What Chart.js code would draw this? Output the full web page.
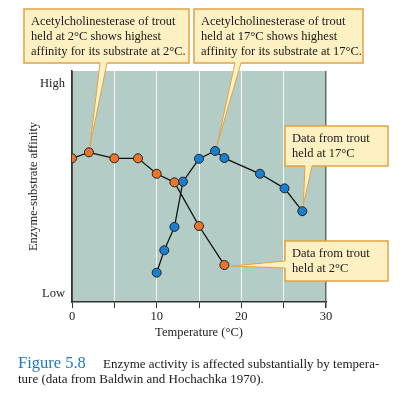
<!DOCTYPE html>
<html><head><meta charset="utf-8">
<script src="https://cdn.jsdelivr.net/npm/chart.js@4"></script>
<style>html,body{margin:0;padding:0;background:#fff;overflow:hidden}</style>
</head><body>
<canvas id="c" width="416" height="394"></canvas>
<script>
// ---- data ----
const temp2C = [0, 2, 5, 7.8, 10, 12.1, 15, 18];
const affinity2C = [62.2, 64.8, 62.2, 62.2, 55.5, 51.8, 32.9, 16.0];
const temp17C = [10, 10.9, 12.1, 13.1, 15, 16.9, 18, 22.2, 25.1, 27.2];
const affinity17C = [12.7, 22.4, 32.5, 52.1, 62.0, 65.4, 62.3, 55.5, 49.2, 39.3];
const xTickValues = [0, 5, 10, 15, 20, 25, 30];
const xTickLabels = ['0', '', '10', '', '20', '', '30'];
const yTickValues = [3.5, 94.4];
const yTickLabels = ['Low', 'High'];
const xTitle = 'Temperature (°C)';
const yTitle = 'Enzyme-substrate affinity';
const notes = [
  ['Acetylcholinesterase of trout', 'held at 2°C shows highest', 'affinity for its substrate at 2°C.'],
  ['Acetylcholinesterase of trout', 'held at 17°C shows highest', 'affinity for its substrate at 17°C.'],
  ['Data from trout', 'held at 17°C'],
  ['Data from trout', 'held at 2°C']
];
const captionLabel = 'Figure 5.8';
const captionLine1 = 'Enzyme activity is affected substantially by tempera-';
const captionLine2 = 'ture (data from Baldwin and Hochachka 1970).';

const SERIF = '"Liberation Serif", "DejaVu Serif", serif';
const FS = 12.5;

const bgPlugin = {
  id: 'bg',
  beforeDraw(chart) {
    const {ctx, chartArea: a} = chart;
    ctx.save();
    ctx.fillStyle = '#b3cdc6';
    ctx.fillRect(a.left, a.top, a.right - a.left, a.bottom - a.top);
    ctx.restore();
  }
};

// callout boxes: box rect + wedge (attached to a data point)
const callouts = [
  {box: [24, 9, 165, 54], text: notes[0], ds: 0, idx: 1, side: 'bottom', base: [100, 107], off: [1, -6]},
  {box: [194, 9, 169, 54], text: notes[1], ds: 1, idx: 5, side: 'bottom', base: [235, 241], off: [2, -6]},
  {box: [285, 126, 103, 40], text: notes[2], ds: 1, idx: 9, side: 'bottom', base: [305, 312], off: [1, -6]},
  {box: [285, 241, 103, 40], text: notes[3], ds: 0, idx: 7, side: 'left', base: [261, 268], off: [7, 1]}
];

const notePlugin = {
  id: 'notes',
  afterDraw(chart) {
    const ctx = chart.ctx;
    ctx.save();
    callouts.forEach(c => {
      const [bx, by, bw, bh] = c.box;
      const el = chart.getDatasetMeta(c.ds).data[c.idx];
      const tx = el.x + c.off[0], ty = el.y + c.off[1];
      ctx.fillStyle = '#fdf0c2';
      ctx.strokeStyle = '#e2a343';
      ctx.lineWidth = 1.5;
      ctx.fillRect(bx, by, bw, bh);
      ctx.strokeRect(bx, by, bw, bh);
      ctx.beginPath();
      if (c.side === 'bottom') {
        const yb = by + bh;
        ctx.moveTo(c.base[0], yb - 1); ctx.lineTo(tx, ty); ctx.lineTo(c.base[1], yb - 1);
        ctx.closePath(); ctx.fill();
        ctx.beginPath();
        ctx.moveTo(c.base[0], yb); ctx.lineTo(tx, ty); ctx.lineTo(c.base[1], yb);
      } else {
        ctx.moveTo(bx + 1, c.base[0]); ctx.lineTo(tx, ty); ctx.lineTo(bx + 1, c.base[1]);
        ctx.closePath(); ctx.fill();
        ctx.beginPath();
        ctx.moveTo(bx, c.base[0]); ctx.lineTo(tx, ty); ctx.lineTo(bx, c.base[1]);
      }
      ctx.lineWidth = 1;
      ctx.stroke();
      ctx.fillStyle = '#1a1a1a';
      ctx.font = FS + 'px ' + SERIF;
      ctx.textBaseline = 'middle';
      ctx.textAlign = 'left';
      c.text.forEach((t, i) => ctx.fillText(t, bx + 7, by + 13 + i * 14.8));
    });
    // caption
    ctx.textBaseline = 'alphabetic';
    ctx.fillStyle = '#2477bd';
    ctx.font = '16.5px ' + SERIF;
    ctx.fillText(captionLabel, 18, 368);
    ctx.fillStyle = '#1a1a1a';
    ctx.font = '13px ' + SERIF;
    ctx.fillText(captionLine1, 103, 368);
    ctx.fillText(captionLine2, 18, 383);
    ctx.restore();
  }
};

const pts = (xs, ys) => xs.map((x, i) => ({x, y: ys[i]}));

new Chart(document.getElementById('c'), {
  type: 'scatter',
  data: {
    datasets: [
      {label: 'Trout held at 2°C', data: pts(temp2C, affinity2C), showLine: true,
       borderColor: '#111', borderWidth: 1.3, backgroundColor: '#ee7427',
       pointBackgroundColor: '#ee7427', pointBorderColor: '#222', pointBorderWidth: 1,
       pointRadius: 4.5},
      {label: 'Trout held at 17°C', data: pts(temp17C, affinity17C), showLine: true,
       borderColor: '#111', borderWidth: 1.3, backgroundColor: '#1a7fcf',
       pointBackgroundColor: '#1a7fcf', pointBorderColor: '#222', pointBorderWidth: 1,
       pointRadius: 4.5}
    ]
  },
  options: {
    responsive: false,
    animation: false,
    devicePixelRatio: 1,
    layout: {padding: {left: 0, top: 71, right: 90, bottom: 52}},
    plugins: {legend: {display: false}, tooltip: {enabled: false}},
    scales: {
      x: {
        type: 'linear', min: 0, max: 30,
        afterBuildTicks: s => { s.ticks = xTickValues.map(v => ({value: v})); },
        afterFit: s => { s.height = 40; },
        ticks: {
          callback: (v, i) => xTickLabels[i],
          font: {family: SERIF, size: FS}, color: '#222', padding: 1, maxRotation: 0, autoSkip: false
        },
        grid: {
          color: c => (c.tick && (c.tick.value === 0 || c.tick.value === 30)) ? '#666' : 'rgba(255,255,255,0.85)',
          lineWidth: c => (c.tick && c.tick.value === 30) ? 1.5 : 1,
          tickColor: '#333', tickLength: 6, drawTicks: true
        },
        border: {color: '#333', width: 1.5},
        title: {display: true, text: xTitle, font: {family: SERIF, size: FS}, color: '#222', padding: {top: 0, bottom: 2}}
      },
      y: {
        min: 0, max: 100,
        afterBuildTicks: s => { s.ticks = yTickValues.map(v => ({value: v})); },
        afterFit: s => { s.width = 72; },
        ticks: {
          callback: (v, i) => yTickLabels[i],
          font: {family: SERIF, size: FS}, color: '#222', padding: 7, autoSkip: false
        },
        grid: {display: false, drawTicks: false},
        border: {display: true, color: '#333', width: 1.5},
        title: {display: true, text: yTitle, font: {family: SERIF, size: FS}, color: '#222', padding: {top: 26, bottom: 0}}
      }
    }
  },
  plugins: [bgPlugin, notePlugin]
});
</script>
</body></html>
